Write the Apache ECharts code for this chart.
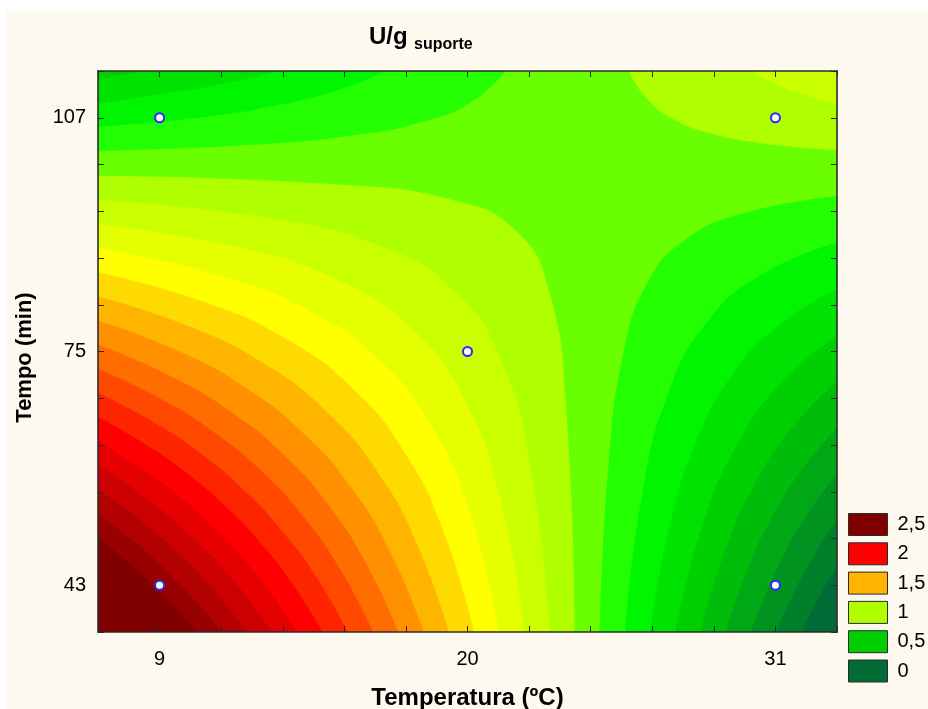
<!DOCTYPE html>
<html><head><meta charset="utf-8">
<script src="https://cdn.jsdelivr.net/npm/echarts@6/dist/echarts.min.js"></script>
<style>html,body{margin:0;padding:0;background:#fff}#c{width:928px;height:709px}</style>
</head><body><div id="c"></div>
<script>
const FONT = "'Liberation Sans', Arial, sans-serif";

// ---- axes / ticks ----
const xRange = [6.8, 33.2];
const yRange = [36.6, 113.4];
const xStep = 2.2, yStep = 6.4;
const xTickLabels = [9, 20, 31];
const yTickLabels = [43, 75, 107];

// ---- experimental design points (Temperatura, Tempo) ----
const designPoints = [[9, 43], [9, 107], [20, 75], [31, 43], [31, 107]];

// ---- legend ----
const legendLabels = ['2,5', '2', '1,5', '1', '0,5', '0'];
const legendValues = [2.5, 2, 1.5, 1, 0.5, 0];

// ---- contour boundaries: [Temperatura, Tempo] ----
// value of the band containing the saddle
const saddleBand = 0.9;
// lower-left high region (z >= level)
const bl_10 = [[6.80,98.99],[15.18,97.85],[19.51,95.65],[21.75,91.39],[22.91,83.17],[23.51,67.3],[23.82,36.6]];
const bl_11 = [[6.80,95.69],[12.98,93.19],[16.97,89.30],[19.53,83.25],[21.18,73.86],[22.24,59.27],[22.92,36.6]];
const bl_12 = [[6.80,92.39],[11.91,89.12],[15.52,84.48],[18.07,77.9],[19.86,68.58],[21.13,55.35],[22.02,36.6]];
const bl_13 = [[6.80,89.09],[11.18,85.33],[14.45,80.32],[16.90,73.61],[18.73,64.64],[20.10,52.64],[21.12,36.6]];
const bl_14 = [[6.80,85.78],[10.60,81.74],[13.57,76.56],[15.89,69.92],[17.70,61.42],[19.12,50.5],[20.22,36.6]];
const bl_15 = [[6.80,82.48],[10.13,78.27],[12.82,73.07],[14.99,66.63],[16.75,58.66],[18.17,48.80],[19.32,36.6]];
const bl_16 = [[6.80,79.18],[9.72,74.92],[12.15,69.79],[14.17,63.63],[15.86,56.23],[17.26,47.32],[18.42,36.6]];
const bl_17 = [[6.80,75.88],[9.36,71.66],[11.55,66.70],[13.42,60.87],[15.01,54.04],[16.36,46.02],[17.52,36.6]];
const bl_18 = [[6.80,72.57],[9.05,68.45],[11.01,63.72],[12.72,58.28],[14.20,52.03],[15.49,44.85],[16.62,36.6]];
const bl_19 = [[6.80,69.27],[8.76,65.32],[10.51,60.87],[12.05,55.84],[13.42,50.18],[14.64,43.80],[15.71,36.6]];
const bl_20 = [[6.80,65.97],[8.50,62.24],[10.04,58.11],[11.42,53.54],[12.67,48.47],[13.80,42.84],[14.81,36.6]];
const bl_21 = [[6.80,62.67],[8.26,59.22],[9.60,55.45],[10.82,51.34],[11.94,46.85],[12.97,41.95],[13.91,36.6]];
const bl_22 = [[6.80,59.36],[8.62,54.58],[10.25,49.23],[11.71,43.27],[13.01,36.6]];
const bl_23 = [[6.80,56.06],[8.31,51.84],[9.70,47.22],[10.96,42.15],[12.11,36.6]];
const bl_24 = [[6.80,52.76],[8.02,49.15],[9.16,45.27],[10.22,41.09],[11.21,36.6]];
const bl_25 = [[6.80,49.45],[7.75,46.50],[8.65,43.39],[9.50,40.09],[10.31,36.6]];
// upper-right high region (z >= level)
const tr_10 = [[25.77,113.4],[26.43,109.55],[27.37,106.83],[28.69,104.9],[30.56,103.53],[33.20,102.6]];
const tr_11 = [[30.15,113.4],[31.00,111.69],[32.03,110.2],[33.20,108.9]];
// upper-left low region (z < level)
const tl_09 = [[6.80,102.5],[12.16,103.3],[15.87,104.6],[18.43,106.52],[20.20,109.33],[21.35,113.4]];
const tl_08 = [[6.80,105.8],[10.28,107.0],[13.06,108.64],[15.29,110.75],[17.07,113.4]];
const tl_07 = [[6.80,109.0],[9.10,110.3],[11.30,111.7],[13.20,113.4]];
const tl_06 = [[6.80,112.2],[7.60,112.79],[8.37,113.4]];
// lower-right low region (z < level)
const br_09 = [[24.73,36.6],[25.06,60.11],[25.59,74.94],[26.42,84.28],[27.75,90.17],[29.86,93.88],[33.20,96.22]];
const br_08 = [[25.63,36.6],[26.27,55.99],[27.20,69.47],[28.53,78.84],[30.44,85.35],[33.20,89.88]];
const br_07 = [[26.53,36.6],[27.26,51.55],[28.21,62.98],[29.45,71.73],[31.08,78.42],[33.20,83.54]];
const br_06 = [[27.43,36.6],[28.38,50.88],[29.60,61.95],[31.17,70.54],[33.20,77.2]];
const br_05 = [[28.33,36.6],[29.22,47.78],[30.30,57.0],[31.61,64.6],[33.20,70.86]];
const br_04 = [[29.23,36.6],[30.02,45.16],[30.93,52.57],[31.99,58.98],[33.20,64.52]];
const br_03 = [[30.13,36.6],[31.02,44.81],[32.03,51.96],[33.20,58.18]];
const br_02 = [[31.03,36.6],[31.69,42.16],[32.41,47.22],[33.20,51.84]];
const br_01 = [[31.94,36.6],[32.54,41.22],[33.20,45.5]];

// drawing order (painter): high regions ascending, low regions descending
const contours = [
  [1.0,'bl',bl_10],[1.0,'tr',tr_10],[1.1,'bl',bl_11],[1.1,'tr',tr_11],
  [1.2,'bl',bl_12],[1.3,'bl',bl_13],[1.4,'bl',bl_14],[1.5,'bl',bl_15],
  [1.6,'bl',bl_16],[1.7,'bl',bl_17],[1.8,'bl',bl_18],[1.9,'bl',bl_19],
  [2.0,'bl',bl_20],[2.1,'bl',bl_21],[2.2,'bl',bl_22],[2.3,'bl',bl_23],
  [2.4,'bl',bl_24],[2.5,'bl',bl_25],
  [0.9,'tl',tl_09],[0.9,'br',br_09],[0.8,'tl',tl_08],[0.8,'br',br_08],
  [0.7,'tl',tl_07],[0.7,'br',br_07],[0.6,'tl',tl_06],[0.6,'br',br_06],
  [0.5,'br',br_05],[0.4,'br',br_04],[0.3,'br',br_03],[0.2,'br',br_02],[0.1,'br',br_01]
];

// ---- colour scale (style) ----
const colorStops = [[0,'#006b35'],[0.5,'#00d000'],[0.75,'#00ff00'],[1.0,'#b0ff00'],
  [1.3,'#ffff00'],[1.5,'#ffb400'],[2.0,'#ff0000'],[2.5,'#800000']];
function hex2rgb(h){return [1,3,5].map(i=>parseInt(h.slice(i,i+2),16));}
function bandColor(v){
  const lo = colorStops[0][0], hi = colorStops[colorStops.length-1][0];
  v = Math.max(lo, Math.min(hi, v));
  for (let i = 1; i < colorStops.length; i++) {
    if (v <= colorStops[i][0] + 1e-9) {
      const [v0,c0] = colorStops[i-1], [v1,c1] = colorStops[i];
      const f = (v - v0) / (v1 - v0);
      const a = hex2rgb(c0), b = hex2rgb(c1);
      return 'rgb(' + a.map((x,k)=>Math.round(x + (b[k]-x)*f)).join(',') + ')';
    }
  }
  return colorStops[colorStops.length-1][1];
}

const series = [];
contours.forEach(([level, region, pts]) => {
  const high = region === 'bl' || region === 'tr';
  const col = bandColor(high ? level : Math.round((level - 0.1)*10)/10);
  series.push({
    type: 'line', data: pts, smooth: 0.5, symbol: 'none', showSymbol: false,
    lineStyle: {color: col, width: 0.6},
    areaStyle: {color: col, opacity: 1, origin: (region === 'tl' || region === 'tr') ? 'end' : 'start'},
    silent: true, z: 2, animation: false
  });
});
series.push({
  type: 'scatter', data: designPoints, symbol: 'circle', symbolSize: 9,
  itemStyle: {color: '#ffffff', borderColor: '#2a2aff', borderWidth: 2, opacity: 1}, z: 5, silent: true
});
legendLabels.forEach((name, i) => {
  series.push({type: 'scatter', name: name, data: [], itemStyle: {color: bandColor(legendValues[i]), opacity: 1}});
});

function fmt(list){
  return v => { const m = list.find(l => Math.abs(l - v) < 0.01); return m === undefined ? '' : String(m); };
}
const axisLineStyle = {color: '#2b2b2b', width: 1.6};
const tickStyle = {color: '#2b2b2b', width: 1};
function xAx(pos, withLabels){
  return {
    type: 'value', position: pos, min: xRange[0], max: xRange[1], interval: xStep,
    axisLine: {show: true, onZero: false, lineStyle: axisLineStyle},
    axisTick: {show: true, inside: true, length: 6, lineStyle: tickStyle},
    axisLabel: withLabels ? {show: true, formatter: fmt(xTickLabels), fontSize: 20, color: '#000', fontFamily: FONT, margin: 17, showMinLabel: true, showMaxLabel: true} : {show: false},
    splitLine: {show: false}, z: 10,
    name: withLabels ? 'Temperatura (ºC)' : '', nameLocation: 'middle', nameGap: 54,
    nameTextStyle: {fontSize: 24, fontWeight: 'bold', color: '#000', fontFamily: FONT}
  };
}
function yAx(pos, withLabels){
  return {
    type: 'value', position: pos, min: yRange[0], max: yRange[1], interval: yStep,
    axisLine: {show: true, onZero: false, lineStyle: axisLineStyle},
    axisTick: {show: true, inside: true, length: 6, lineStyle: tickStyle},
    axisLabel: withLabels ? {show: true, formatter: fmt(yTickLabels), fontSize: 20, color: '#000', fontFamily: FONT, margin: 12, showMinLabel: true, showMaxLabel: true} : {show: false},
    splitLine: {show: false}, z: 10,
    name: withLabels ? 'Tempo (min)' : '', nameLocation: 'middle', nameGap: 62, nameRotate: 90,
    nameTextStyle: {fontSize: 22, fontWeight: 'bold', color: '#000', fontFamily: FONT, padding: [0, 12, 0, 0]}
  };
}

const chart = echarts.init(document.getElementById('c'), null, {renderer: 'canvas'});
chart.setOption({
  animation: false,
  backgroundColor: '#fdf9ef',
  textStyle: {fontFamily: FONT},
  title: [
    {text: 'U/g', left: 369, top: 25, padding: 0, textStyle: {fontSize: 24, fontWeight: 'bold', color: '#000', fontFamily: FONT}},
    {text: 'suporte', left: 414, top: 37, padding: 0, textStyle: {fontSize: 16, fontWeight: 'bold', color: '#000', fontFamily: FONT}}
  ],
  grid: {left: 98, right: 91, top: 71, bottom: 77, show: true, backgroundColor: bandColor(saddleBand), borderWidth: 0,
         containLabel: false, outerBoundsMode: 'none'},
  xAxis: [xAx('bottom', true), xAx('top', false)],
  yAxis: [yAx('left', true), yAx('right', false)],
  legend: {
    orient: 'vertical', left: 848, top: 513, padding: 0,
    itemWidth: 39, itemHeight: 22, itemGap: 6.3, icon: 'rect', selectedMode: false,
    itemStyle: {borderColor: '#2b2b2b', borderWidth: 1, opacity: 1},
    textStyle: {fontSize: 20, color: '#000', fontFamily: FONT, padding: [0, 0, 0, 5]},
    data: legendLabels
  },
  graphic: [
    {type: 'rect', shape: {x: 0, y: 0, width: 928, height: 11}, style: {fill: '#ffffff'}, silent: true},
    {type: 'rect', shape: {x: 0, y: 0, width: 6, height: 709}, style: {fill: '#ffffff'}, silent: true}
  ],
  series: series
});
</script></body></html>
